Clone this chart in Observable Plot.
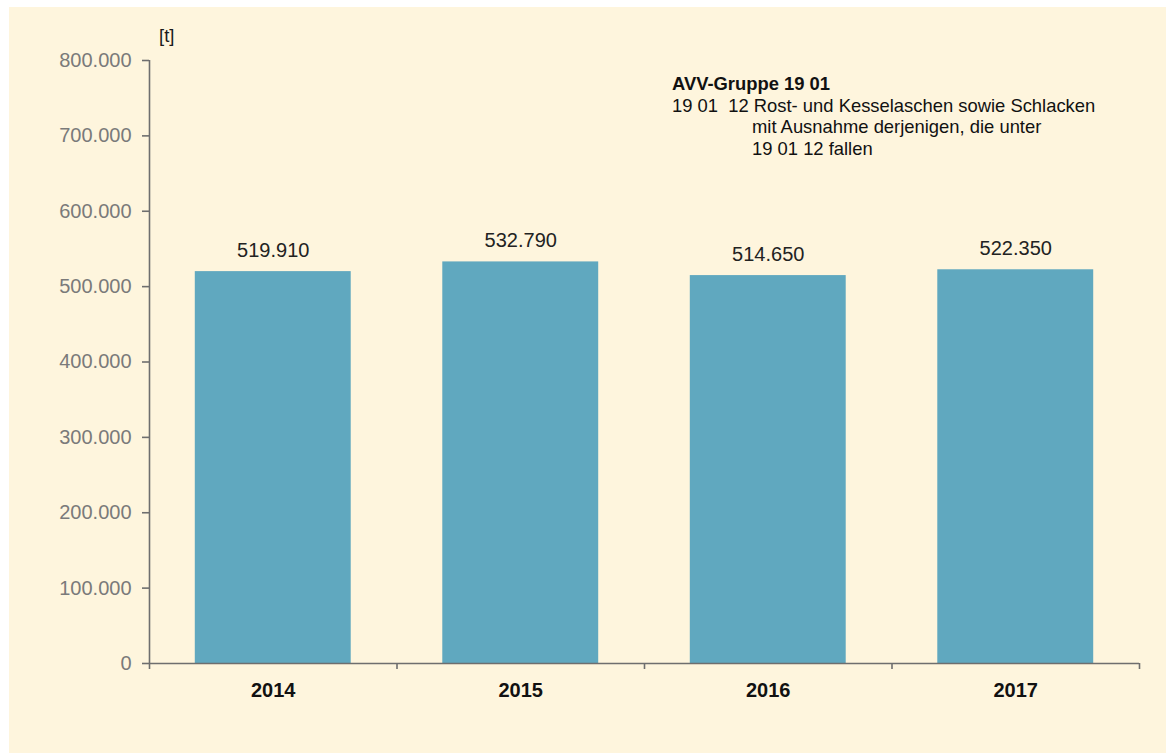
<!DOCTYPE html>
<html>
<head>
<meta charset="utf-8">
<script src="https://cdn.jsdelivr.net/npm/d3@7"></script>
<script src="https://cdn.jsdelivr.net/npm/@observablehq/plot@0.6"></script>
<style>
  html, body { margin: 0; padding: 0; background: #ffffff; }
  #panel { position: absolute; left: 9px; top: 7px; width: 1157px; height: 746px; background: #fef5dd; overflow: hidden;
           font-family: "Liberation Sans", Arial, sans-serif; }
  #chart { position: absolute; left: 0; top: 0; }
  #unit { position: absolute; left: 150px; top: 18px; font-size: 18.5px; color: #1a1a1a; }
  #note { position: absolute; left: 663px; top: 66px; font-size: 18.4px; line-height: 21.5px; color: #111; }
  #note .b { font-weight: bold; }
  #note .ind { padding-left: 80px; }
  g[aria-label="y-axis tick label"] text { fill: #7a7a7a; }
  g[aria-label="y-axis tick"] path, g[aria-label="x-axis tick"] path { stroke: #6e6e6e; }
</style>
</head>
<body>
<div id="panel">
  <div id="chart"></div>
  <div id="unit">[t]</div>
  <div id="note">
    <div class="b">AVV-Gruppe 19 01</div>
    <div>19 01&nbsp; 12 Rost- und Kesselaschen sowie Schlacken</div>
    <div class="ind">mit Ausnahme derjenigen, die unter</div>
    <div class="ind">19 01 12 fallen</div>
  </div>
</div>
<script>
const years = ["2014", "2015", "2016", "2017"];
const values = [519910, 532790, 514650, 522350];
const yTicks = [0, 100000, 200000, 300000, 400000, 500000, 600000, 700000, 800000];

const de = d3.formatLocale({decimal: ",", thousands: ".", grouping: [3], currency: ["", " €"]});
const fmt = de.format(",");

const data = years.map((y, i) => ({year: y, value: values[i], i}));
const pad = 0.185;

const chart = Plot.plot({
  width: 1157,
  height: 746,
  marginLeft: 140,
  marginTop: 53,
  marginBottom: 90,
  marginRight: 27,
  style: {background: "transparent", fontFamily: "'Liberation Sans', Arial, sans-serif", color: "#6e6e6e", overflow: "visible"},
  x: {domain: [0, years.length], axis: null},
  y: {domain: [0, 800000], axis: null},
  marks: [
    Plot.rectY(data, {x1: d => d.i + pad, x2: d => d.i + 1 - pad, y1: 0, y2: "value", fill: "#60a8bf"}),
    Plot.ruleX([0], {stroke: "#6e6e6e", strokeWidth: 1.6}),
    Plot.ruleY([0], {stroke: "#6e6e6e", strokeWidth: 1.6}),
    Plot.axisY({ticks: yTicks, tickSize: 7, tickPadding: 11, tickFormat: fmt, fontSize: 20, label: null, strokeWidth: 1.6}),
    Plot.axisX({ticks: d3.range(years.length + 1), tickSize: 6, tickFormat: () => "", label: null, strokeWidth: 1.6}),
    Plot.text(data, {x: d => d.i + 0.5, y: 0, text: "year", dy: 27, lineAnchor: "middle", fontSize: 20, fontWeight: "bold", fill: "#111"}),
    Plot.text(data, {x: d => d.i + 0.5, y: "value", text: d => fmt(d.value), dy: -15, lineAnchor: "bottom", fontSize: 20, fill: "#222"})
  ]
});
document.getElementById("chart").appendChild(chart);
</script>
</body>
</html>
